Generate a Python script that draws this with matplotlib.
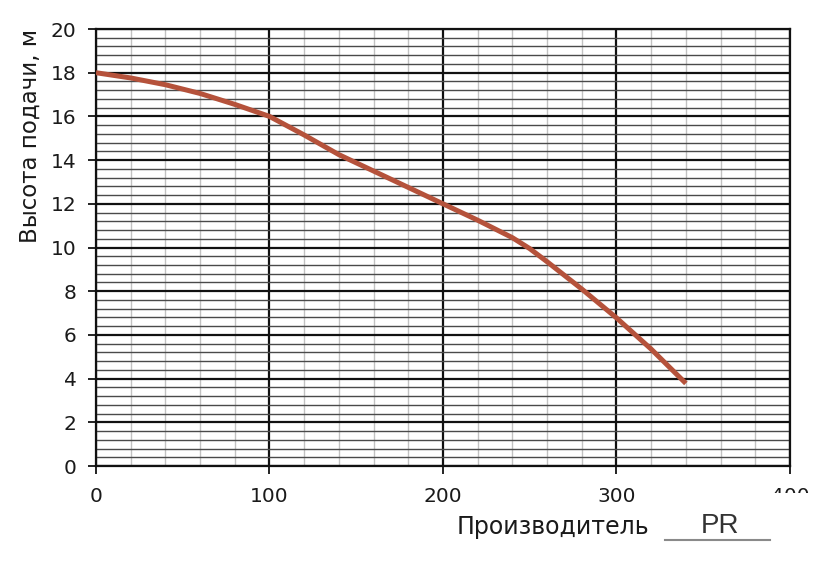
import numpy as np
import matplotlib
matplotlib.use("Agg")
import matplotlib.pyplot as plt
from matplotlib.ticker import MultipleLocator
from matplotlib.patches import Rectangle

# pump curve
flow = [0, 20, 40, 60, 80, 100, 120, 140, 160, 180, 200, 220, 240, 250, 260, 280, 300, 320, 340]
head = [18.0, 17.76, 17.45, 17.05, 16.55, 16.0, 15.15, 14.25, 13.5, 12.75, 12.0, 11.25, 10.45, 9.95, 9.35, 8.1, 6.78, 5.35, 3.78]

x_ticks = [0, 100, 200, 300, 400]
y_ticks = [0, 2, 4, 6, 8, 10, 12, 14, 16, 18, 20]

plt.rcParams['font.family'] = ['DejaVu Sans']

fig = plt.figure(figsize=(8.34, 5.61), dpi=100)
ax = fig.add_axes([0.1151, 0.1693, 0.9472 - 0.1151, 0.9483 - 0.1693])

ax.set_xlim(0, 400)
ax.set_ylim(0, 20)
ax.set_xticks(x_ticks)
ax.set_yticks(y_ticks)
ax.xaxis.set_minor_locator(MultipleLocator(20))
ax.yaxis.set_minor_locator(MultipleLocator(0.4))

ax.grid(which='minor', axis='x', color='#c2c2c2', linewidth=1.0)
ax.grid(which='minor', axis='y', color='#4a4a4a', linewidth=1.0)
ax.grid(which='major', color='#111111', linewidth=1.6)
ax.set_axisbelow(True)

ax.tick_params(which='major', direction='out', length=6, width=1.3, color='#111111',
               labelsize=14.5, labelcolor='#1a1a1a')
ax.tick_params(which='minor', length=0)
ax.tick_params(axis='x', pad=9)
ax.tick_params(axis='y', pad=8)
for s in ax.spines.values():
    s.set_color('#111111')
    s.set_linewidth(1.6)

ax.plot(flow, head, color='#b5523b', linewidth=3.6, solid_capstyle='butt',
        solid_joinstyle='round', zorder=3)

fig.text(30 / 834, 1 - 136 / 561, 'Высота подачи, м', fontsize=16.5, color='#1a1a1a',
         rotation=90, ha='center', va='center')

# white band that hides the lower part of "400"
fig.add_artist(Rectangle((0.84, 0.0), 0.16, 1 - 493 / 561, transform=fig.transFigure,
                         facecolor='white', edgecolor='none', zorder=5))

fig.text(457 / 834, 1 - 527 / 561, 'Производитель', fontsize=17, color='#1a1a1a',
         ha='left', va='center', zorder=6)
fig.text(720 / 834, 1 - 526 / 561, 'PR', fontsize=20, color='#333333', family='Liberation Sans',
         ha='center', va='center', zorder=6)
fig.add_artist(plt.Line2D([665 / 834, 770 / 834], [1 - 540 / 561] * 2, transform=fig.transFigure,
                          color='#8a8a8a', linewidth=1.5, zorder=6))

fig.savefig('out.png', dpi=100)
